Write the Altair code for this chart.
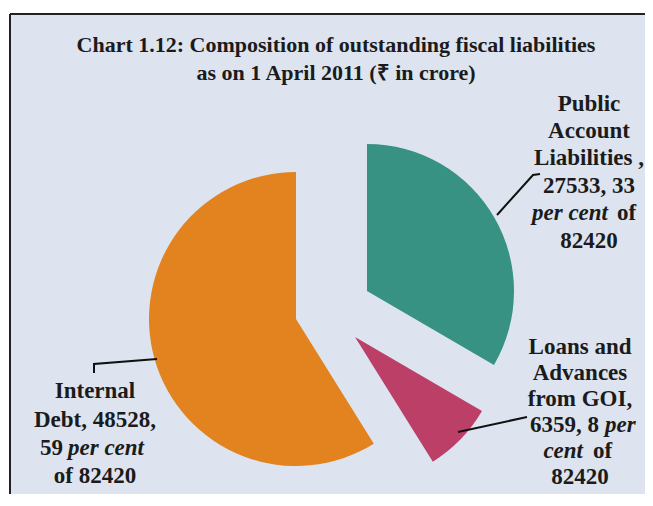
import math
import altair as alt
import pandas as pd

# ---------------- data ----------------
CATEGORIES = ["Public Account Liabilities", "Loans and Advances from GOI", "Internal Debt"]
VALUES = [27533, 6359, 48528]
PERCENTS = [33, 8, 59]
TOTAL = 82420
COLORS = ["#379283", "#bc3f68", "#e2831f"]

TITLE_LINES = [
    "Chart 1.12: Composition of outstanding fiscal liabilities",
    "as on 1 April 2011 (\u20b9 in crore)",
]

# ---------------- layout ----------------
W, H = 635, 480
BG = "#dde4ef"
INK = "#1b1b1b"
FONT = "Liberation Serif"
RADIUS = 147
CENTER = (320, 301)
# per-slice explosion offset (px) from the pie centre
EXPLODE = {
    "Public Account Liabilities": (37, -24),
    "Loans and Advances from GOI": (25, 22),
    "Internal Debt": (-34, 4),
}

# table built from the arrays
starts, ends, acc = [], [], 0
for v in VALUES:
    starts.append(acc)
    acc += v
    ends.append(acc)
df = pd.DataFrame({"cat": CATEGORIES, "value": VALUES, "start": starts, "end": ends, "pct": PERCENTS})

theta_scale = alt.Scale(domain=[0, TOTAL], range=[0, 2 * math.pi])
color_scale = alt.Scale(domain=CATEGORIES, range=COLORS)

layers = []
for cat in CATEGORIES:
    dx, dy = EXPLODE[cat]
    arc = (
        alt.Chart(df)
        .transform_filter(alt.datum.cat == cat)
        .mark_arc(radius=RADIUS, stroke=None)
        .encode(
            theta=alt.Theta("start:Q", scale=theta_scale, stack=None),
            theta2="end:Q",
            color=alt.Color("cat:N", scale=color_scale, legend=None),
            x=alt.value(CENTER[0] + dx),
            y=alt.value(CENTER[1] + dy),
        )
    )
    layers.append(arc)

# frame (left and top borders)
frame_l = alt.Chart(pd.DataFrame({"a": [0]})).mark_rule(color="#222222", strokeWidth=2).encode(
    x=alt.value(0), y=alt.value(0), y2=alt.value(H))
frame_t = alt.Chart(pd.DataFrame({"a": [0]})).mark_rule(color="#222222", strokeWidth=2).encode(
    x=alt.value(0), x2=alt.value(W), y=alt.value(0))
layers += [frame_l, frame_t]

# leader lines
LEADERS = [
    [(530, 160), (523, 161), (487, 201)],
    [(84, 359), (84, 350), (147, 345)],
    [(517, 403), (448, 418)],
]
for i, pts in enumerate(LEADERS):
    ld = pd.DataFrame({"x": [p[0] for p in pts], "y": [p[1] for p in pts], "o": list(range(len(pts)))})
    layers.append(
        alt.Chart(ld).mark_line(color="#111111", strokeWidth=2).encode(
            x=alt.X("x:Q", scale=None), y=alt.Y("y:Q", scale=None), order="o:Q")
    )


def txt(s, x, y, size=23, align="center", italic=False):
    d = pd.DataFrame({"t": [s]})
    kw = dict(font=FONT, fontSize=size, fontWeight="bold", color=INK, align=align, baseline="alphabetic")
    if italic:
        kw["fontStyle"] = "italic"
    return alt.Chart(d).mark_text(**kw).encode(text="t:N", x=alt.value(x), y=alt.value(y))


# title
layers.append(txt(TITLE_LINES[0], 326, 38, size=22))
layers.append(txt(TITLE_LINES[1], 326, 66, size=22))

# Public Account Liabilities label
pal = ["Public", "Account", "Liabilities ,", f"{VALUES[0]}, {PERCENTS[0]}"]
for s, y in zip(pal, [97, 124, 151, 179]):
    layers.append(txt(s, 579, y))
layers.append(txt("per cent", 598, 206, align="right", italic=True))
layers.append(txt("of", 607, 206, align="left"))
layers.append(txt(f"{TOTAL}", 579, 234))

# Loans and Advances label
for s, y in zip(["Loans and", "Advances", "from GOI,"], [340, 366, 392]):
    layers.append(txt(s, 570, y))
layers.append(txt(f"{VALUES[1]}, {PERCENTS[1]}", 589, 418, align="right"))
layers.append(txt("per", 595, 418, align="left", italic=True))
layers.append(txt("cent", 573, 444, align="right", italic=True))
layers.append(txt("of", 583, 444, align="left"))
layers.append(txt(f"{TOTAL}", 570, 470))

# Internal Debt label
layers.append(txt("Internal", 85, 384))
layers.append(txt(f"Debt, {VALUES[2]},", 85, 413))
layers.append(txt(f"{PERCENTS[2]}", 53, 441, align="right"))
layers.append(txt("per cent", 58, 441, align="left", italic=True))
layers.append(txt(f"of {TOTAL}", 85, 469))

chart = (
    alt.layer(*layers)
    .properties(
        width=W,
        height=H,
        autosize="none",
        padding={"left": 2, "top": 6, "right": 0, "bottom": 0},
        background="white",
    )
    .configure_view(fill=BG, stroke=None)
)

chart.save("out.html", embed_options={"renderer": "svg", "actions": False})
